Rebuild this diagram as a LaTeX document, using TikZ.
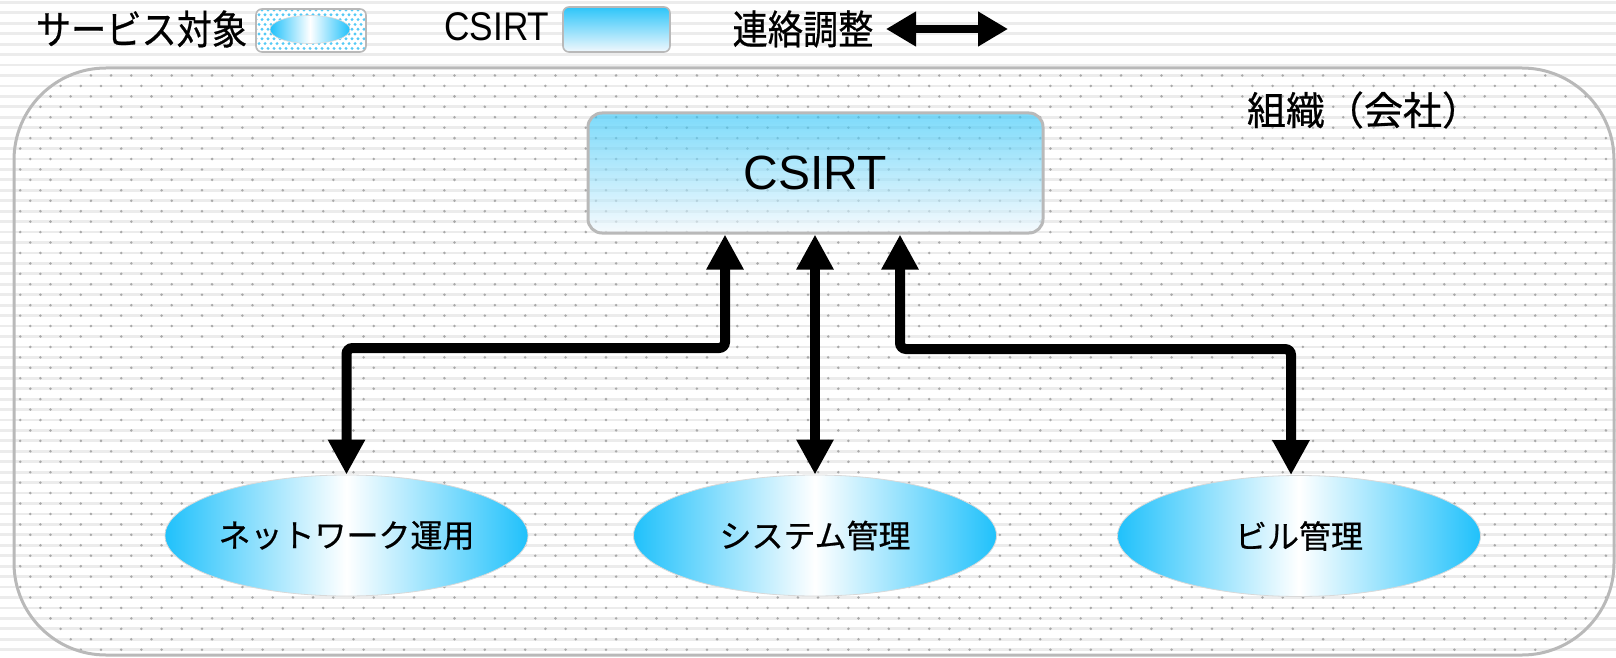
\documentclass[tikz,border=0pt]{standalone}
\usepackage{fontspec}
\usepackage{graphicx}
\setmainfont{Liberation Sans}
\newfontfamily\jp[FakeBold=0.6]{Noto Sans CJK JP}
\usetikzlibrary{shapes.geometric,arrows.meta,calc}
\definecolor{stripec}{HTML}{ECECEC}
\definecolor{dotc}{HTML}{AAAAAA}
\definecolor{borderc}{HTML}{B9B9B9}
\definecolor{eblue}{HTML}{20C1FB}
\definecolor{btop}{HTML}{2DC5F9}
\definecolor{bbot}{HTML}{F2F8FD}
\definecolor{sdot}{HTML}{55CAF6}
\begin{document}
\begin{tikzpicture}[x=0.5pt,y=-0.5pt,
  orgbox/.style={draw=borderc, line width=1.5pt, rounded corners=46pt},
  csirtbox/.style={rectangle, draw=borderc, line width=1.5pt, rounded corners=7pt,
    top color=btop, bottom color=bbot, fill opacity=0.62, draw opacity=1, text opacity=1,
    minimum width=227.5pt, minimum height=60pt, inner sep=0pt,
    font=\fontsize{24}{28}\selectfont},
  service/.style={ellipse, draw=gray!30, line width=0.4pt,
    left color=eblue, right color=eblue, middle color=white,
    minimum width=181.5pt, minimum height=60.5pt, inner sep=0pt,
    font=\jp\fontsize{16}{19}\selectfont},
  biarrow/.style={line width=5pt, rounded corners=3pt,
    {Triangle[width=17.5pt,length=17.5pt]}-{Triangle[width=17.5pt,length=17.5pt]}},
  legarrow/.style={line width=4pt,
    {Triangle[width=16.5pt,length=15pt]}-{Triangle[width=16.5pt,length=15pt]}},
  legtext/.style={inner sep=0pt, font=\fontsize{20}{24}\selectfont},
  swatch/.style={draw=borderc, line width=0.8pt, rounded corners=3pt},
  stripe/.style={fill=stripec},
  dot/.style={fill=dotc},
]
\useasboundingbox (0,0) rectangle (1616,658);
\fill[white] (0,0) rectangle (1616,658);
% background stripes
\foreach \k in {0,...,62} {
  \fill[stripe] (0,{2.4+10.44*\k-1.4}) rectangle (1616,{2.4+10.44*\k+1.4});
}
% dots inside the organisation box
\begin{scope}
  \clip[rounded corners=46pt] (14,68) rectangle (1614,655);
  \foreach \k in {6,...,62} {
    \pgfmathsetmacro\yy{2.4+10.44*\k}
    \pgfmathsetmacro\off{mod(\k,2)*10.1}
    \foreach \j in {0,...,80} {
      \fill[dot] ({\off+20.2*\j},\yy) circle[radius=0.7pt];
    }
  }
\end{scope}
\draw[orgbox] (14,68) rectangle (1614,655);
\node[inner sep=0pt, font=\jp\fontsize{19.5}{23}\selectfont] (org) at (1364,110) {組織（会社）};

% legend
\node[legtext] (lg1) at (141.5,29) {\scalebox{0.88}[1]{\jp サービス対象}};
\fill[white, rounded corners=3pt] (256,9) rectangle (366,52);
\begin{scope}
  \clip[rounded corners=3pt] (256,9) rectangle (366,52);
  \foreach \k in {0,...,9} {
    \pgfmathsetmacro\yy{10+4.8*\k}
    \pgfmathsetmacro\off{mod(\k,2)*3}
    \foreach \j in {0,...,19} {
      \fill[sdot] ({256+\off+6*\j},\yy) circle[radius=0.8pt];
    }
  }
\end{scope}
\draw[swatch] (256,9) rectangle (366,52);
\node[ellipse, draw=gray!30, line width=0.3pt, left color=eblue, right color=eblue, middle color=white,
  minimum width=40pt, minimum height=14pt, inner sep=0pt] (sw1) at (310,29.5) {};
\node[legtext] (lg2) at (497,27) {\scalebox{0.88}[1]{CSIRT}};
\node[rectangle, draw=borderc, line width=0.8pt, rounded corners=3pt, top color=btop, bottom color=bbot,
  minimum width=53.5pt, minimum height=22.5pt, inner sep=0pt] (sw2) at (616.5,29.5) {};
\node[legtext] (lg3) at (803,29) {\scalebox{0.88}[1]{\jp 連絡調整}};
\coordinate (la) at (886,29);
\coordinate (lb) at (1008,29);
\draw[legarrow] (la) -- (lb);

% main boxes
\node[csirtbox] (csirt) at (815.5,173) {CSIRT};
\node[service] (net) at (346.5,535.5) {ネットワーク運用};
\node[service] (sys) at (815,535.5) {システム管理};
\node[service] (bld) at (1299,536) {ビル管理};

% connectors
\coordinate (hl) at (0,348);
\coordinate (hr) at (0,349);
\coordinate (a1) at ($(csirt.south)+(-90.5,0)$);
\coordinate (a3) at ($(csirt.south)+(84.5,0)$);
\coordinate (b3) at ($(bld.north)+(-8,0)$);
\draw[biarrow] (a1) -- (a1 |- hl) -- (hl -| net.north) -- (net.north);
\draw[biarrow] (csirt.south -| sys.north) -- (sys.north);
\draw[biarrow] (a3) -- (a3 |- hr) -- (hr -| b3) -- (b3);
\end{tikzpicture}
\end{document}
